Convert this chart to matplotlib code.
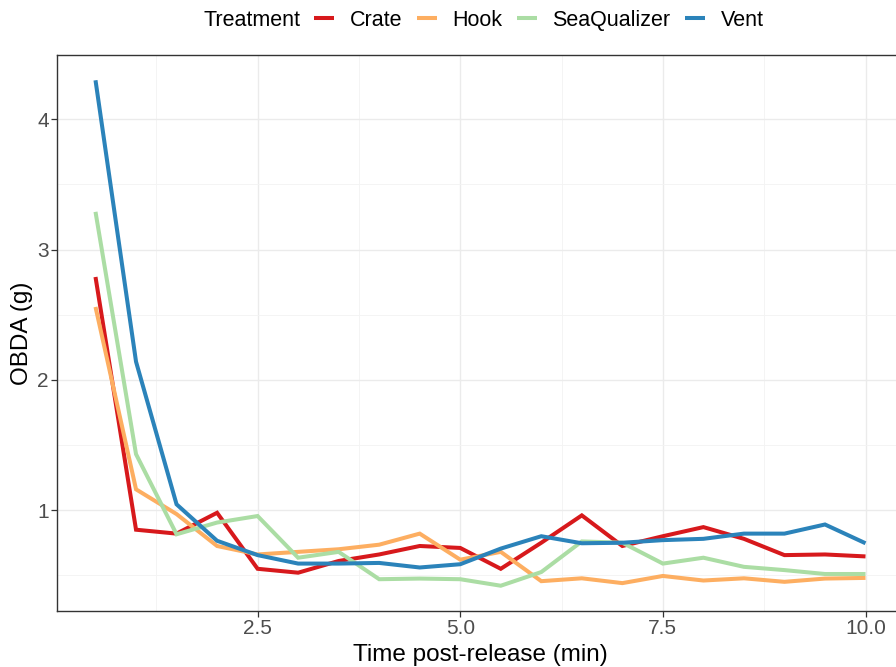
import matplotlib
matplotlib.use("Agg")
import matplotlib.pyplot as plt
from matplotlib.ticker import FixedLocator

plt.rcParams['font.family'] = ['Liberation Sans', 'DejaVu Sans']

time = [0.5, 1.0, 1.5, 2.0, 2.5, 3.0, 3.5, 4.0, 4.5, 5.0,
        5.5, 6.0, 6.5, 7.0, 7.5, 8.0, 8.5, 9.0, 9.5, 10.0]

crate = [2.79, 0.85, 0.82, 0.98, 0.55, 0.52, 0.61, 0.66, 0.725, 0.71,
         0.55, 0.75, 0.96, 0.725, 0.80, 0.87, 0.78, 0.655, 0.66, 0.645]
hook = [2.56, 1.16, 0.97, 0.725, 0.66, 0.68, 0.70, 0.735, 0.82, 0.62,
        0.68, 0.455, 0.477, 0.44, 0.495, 0.46, 0.477, 0.45, 0.475, 0.48]
seaqualizer = [3.29, 1.43, 0.815, 0.905, 0.955, 0.635, 0.68, 0.47, 0.475, 0.47,
               0.42, 0.525, 0.76, 0.75, 0.59, 0.635, 0.565, 0.54, 0.51, 0.51]
vent = [4.30, 2.14, 1.045, 0.765, 0.655, 0.59, 0.59, 0.595, 0.56, 0.585,
        0.705, 0.80, 0.746, 0.75, 0.77, 0.78, 0.82, 0.82, 0.89, 0.746]

series_names = ["Crate", "Hook", "SeaQualizer", "Vent"]
series_values = [crate, hook, seaqualizer, vent]
colors = ["#D7191C", "#FDAE61", "#ABDDA4", "#2B83BA"]

x_ticks = [2.5, 5.0, 7.5, 10.0]
x_tick_labels = ["2.5", "5.0", "7.5", "10.0"]
y_ticks = [1, 2, 3, 4]

fig = plt.figure(figsize=(8.96, 6.67), dpi=100)
ax = fig.add_axes([57 / 896, 1 - 611 / 667, (904 - 57) / 896, (611 - 55) / 667])

handles = []
for name, vals, c in zip(series_names, series_values, colors):
    h, = ax.plot(time, vals, color=c, lw=2.9, label=name, solid_capstyle='butt',
                 solid_joinstyle='miter', zorder=3)
    handles.append(h)

ax.margins(x=0.05, y=0.05)
ax.xaxis.set_major_locator(FixedLocator(x_ticks))
ax.set_xticklabels(x_tick_labels)
ax.xaxis.set_minor_locator(FixedLocator([1.25, 3.75, 6.25, 8.75]))
ax.yaxis.set_major_locator(FixedLocator(y_ticks))
ax.yaxis.set_minor_locator(FixedLocator([0.5, 1.5, 2.5, 3.5, 4.5]))

ax.grid(which='major', color='#EBEBEB', lw=1.0, zorder=0)
ax.grid(which='minor', color='#F3F3F3', lw=0.6, zorder=0)
ax.set_axisbelow(True)

for s in ax.spines.values():
    s.set_color('#333333')
    s.set_linewidth(1.0)

ax.tick_params(which='major', length=4, width=0.9, color='#333333',
               labelsize=15, labelcolor='#4D4D4D', pad=2)
ax.tick_params(which='minor', length=0)

ax.set_xlabel("Time post-release (min)", fontsize=17.5, color='black', labelpad=4)
ax.set_ylabel("OBDA (g)", fontsize=17.5, color='black', labelpad=3)

fig.text(300 / 896, 1 - 20.5 / 667, "Treatment", ha='right', va='center', fontsize=15.5)
leg = fig.legend(handles=handles, labels=series_names, loc='center left',
                 bbox_to_anchor=(310 / 896, 1 - 20.5 / 667), ncol=4, frameon=False,
                 fontsize=15.5, handlelength=0.93, handletextpad=0.7,
                 columnspacing=0.7, borderaxespad=0, borderpad=0.2)

fig.savefig("out.png", dpi=100)
